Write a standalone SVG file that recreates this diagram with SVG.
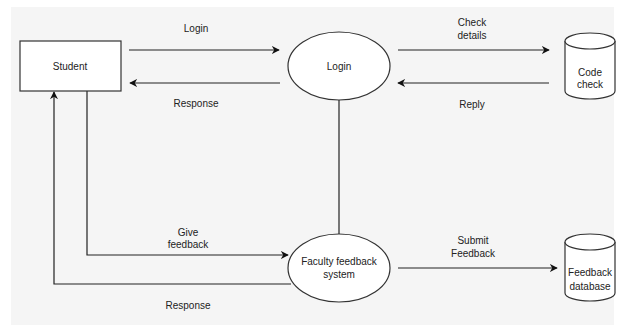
<svg xmlns="http://www.w3.org/2000/svg" width="624" height="325" viewBox="0 0 624 325">
  <style>
    .shape { fill: #ffffff; stroke: #333333; stroke-width: 1.2; }
    .edge { fill: none; stroke: #222222; stroke-width: 1.2; }
    .label { font-family: "Liberation Sans", Arial, sans-serif; font-size: 10px; fill: #222222; text-anchor: middle; dominant-baseline: central; }
  </style>
  <defs>
    <marker id="arrow" viewBox="0 0 10 10" refX="9" refY="5" markerWidth="8" markerHeight="8" markerUnits="userSpaceOnUse" orient="auto">
      <path d="M0,0 L10,5 L0,10 L3,5 Z" fill="#111111"/>
    </marker>
  </defs>

  <!-- canvas -->
  <rect x="11" y="7" width="603" height="318" fill="#f5f5f5"/>

  <!-- connectors -->
  <g id="connectors">
    <line class="edge" x1="129" y1="50" x2="279" y2="50" marker-end="url(#arrow)"/>
    <line class="edge" x1="280" y1="83" x2="130" y2="83" marker-end="url(#arrow)"/>
    <line class="edge" x1="398" y1="50" x2="549" y2="50" marker-end="url(#arrow)"/>
    <line class="edge" x1="549" y1="83" x2="398" y2="83" marker-end="url(#arrow)"/>
    <line class="edge" x1="339" y1="100" x2="339" y2="234"/>
    <polyline class="edge" points="87,91 87,255 288,255" marker-end="url(#arrow)"/>
    <polyline class="edge" points="291,284 54,284 54,92" marker-end="url(#arrow)"/>
    <line class="edge" x1="398" y1="268" x2="557" y2="268" marker-end="url(#arrow)"/>

    <text class="label" x="196" y="28">Login</text>
    <text class="label" x="196" y="103">Response</text>
    <text class="label" x="472" y="22">Check</text>
    <text class="label" x="472" y="35">details</text>
    <text class="label" x="472" y="104">Reply</text>
    <text class="label" x="188" y="232">Give</text>
    <text class="label" x="188" y="244">feedback</text>
    <text class="label" x="188" y="305">Response</text>
    <text class="label" x="473" y="240">Submit</text>
    <text class="label" x="473" y="253">Feedback</text>
  </g>

  <g id="student">
    <rect class="shape" x="20" y="41" width="101" height="50"/>
    <text class="label" x="70" y="66">Student</text>
  </g>

  <g id="login">
    <ellipse class="shape" cx="339" cy="66" rx="51" ry="34"/>
    <text class="label" x="339" y="66">Login</text>
  </g>

  <g id="code-check">
    <path class="shape" d="M565,41 L565,91 A25,8 0 0 0 615,91 L615,41 A25,8 0 0 0 565,41 Z"/>
    <path class="shape" fill="none" d="M565,41 A25,8 0 0 0 615,41"/>
    <text class="label" x="590" y="72">Code</text>
    <text class="label" x="590" y="84">check</text>
  </g>

  <g id="faculty-feedback-system">
    <ellipse class="shape" cx="339" cy="268" rx="51" ry="34"/>
    <text class="label" x="339" y="261">Faculty feedback</text>
    <text class="label" x="339" y="274">system</text>
  </g>

  <g id="feedback-database">
    <path class="shape" d="M565,242 L565,293 A25,8 0 0 0 615,293 L615,242 A25,8 0 0 0 565,242 Z"/>
    <path class="shape" fill="none" d="M565,242 A25,8 0 0 0 615,242"/>
    <text class="label" x="590" y="272">Feedback</text>
    <text class="label" x="590" y="286">database</text>
  </g>
</svg>
